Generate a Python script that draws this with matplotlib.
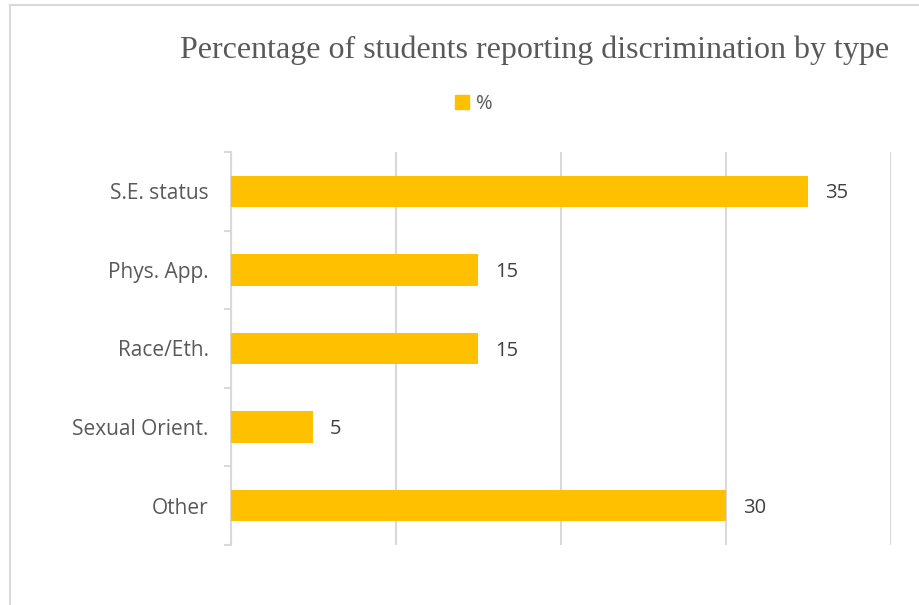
import numpy as np
import matplotlib
matplotlib.use("Agg")
import matplotlib.pyplot as plt
from matplotlib.lines import Line2D
from matplotlib.patches import Patch

CATEGORIES = ["S.E. status", "Phys. App.", "Race/Eth.", "Sexual Orient.", "Other"]
PERCENT = [35, 15, 15, 5, 30]
X_TICKS = [0, 10, 20, 30, 40]
SERIES_NAME = "%"
TITLE = "Percentage of students reporting discrimination by type"

BAR_COLOR = "#FFC000"
GRID_COLOR = "#D9D9D9"
TEXT_COLOR = "#595959"
LABEL_COLOR = "#404040"

W, H = 920, 605
fig = plt.figure(figsize=(W / 100, H / 100), dpi=100)

# outer chart border (only top and left edges fall inside the frame)
fig.add_artist(Line2D([10 / W, 10 / W], [0, 1 - 5 / H], color=GRID_COLOR, lw=1.5))
fig.add_artist(Line2D([10 / W, 1], [1 - 5 / H, 1 - 5 / H], color=GRID_COLOR, lw=1.5))

ax = fig.add_axes([231 / W, 1 - 545 / H, (891 - 231) / W, (545 - 152) / H])

y = np.arange(len(CATEGORIES))
ax.barh(y, PERCENT, height=0.4, color=BAR_COLOR, zorder=3)

for yi, v in zip(y, PERCENT):
    ax.annotate(str(v), (v, yi), xytext=(12, -1.5), textcoords="offset points",
                ha="left", va="center", fontsize=14.5, color=LABEL_COLOR,
                family="Open Sans")

ax.set_xlim(X_TICKS[0], X_TICKS[-1])
ax.set_ylim(len(CATEGORIES) - 0.5, -0.5)
ax.set_xticks(X_TICKS)
ax.set_xticklabels([])
ax.tick_params(axis="x", length=0)
ax.grid(axis="x", color=GRID_COLOR, lw=1.5, zorder=0)

# category labels centred on bars, tick marks on the band boundaries
ax.set_yticks(y)
ax.set_yticklabels(CATEGORIES, fontsize=15, color=TEXT_COLOR, family="Open Sans")
ax.tick_params(axis="y", which="major", length=0, pad=16)
ax.set_yticks(np.arange(len(CATEGORIES) + 1) - 0.5, minor=True)
ax.tick_params(axis="y", which="minor", length=5, width=1.5, color=GRID_COLOR)

for side in ["top", "right", "bottom"]:
    ax.spines[side].set_visible(False)
ax.spines["left"].set_color(GRID_COLOR)
ax.spines["left"].set_linewidth(1.5)

fig.text(535 / W, 1 - 50 / H, TITLE, ha="center", va="center",
         fontsize=23, color=TEXT_COLOR, family="Liberation Serif")

fig.legend(handles=[Patch(color=BAR_COLOR, label=SERIES_NAME)],
           loc="center", bbox_to_anchor=(474 / W, 1 - 104 / H), frameon=False,
           handlelength=0.7, handleheight=0.7, handletextpad=0.35,
           prop={"family": "Open Sans", "size": 14.5}, labelcolor=TEXT_COLOR)

fig.savefig("out.png", dpi=100)
